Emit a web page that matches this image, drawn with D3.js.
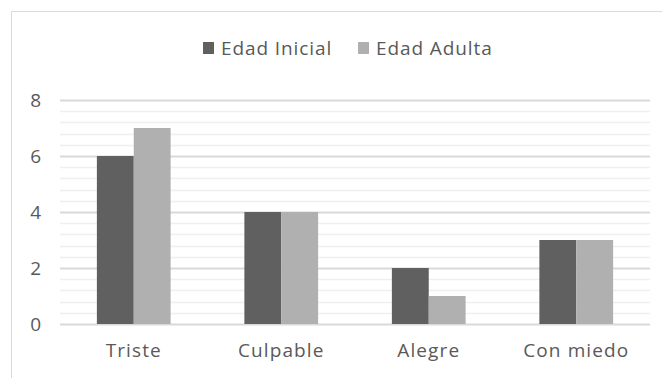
<!DOCTYPE html>
<html>
<head>
<meta charset="utf-8">
<script src="https://cdn.jsdelivr.net/npm/d3@7"></script>
<style>
  html, body { margin: 0; padding: 0; background: #fff; }
  svg { display: block; }
  text { font-family: "Open Sans", "Noto Sans", sans-serif; fill: #595959; }
</style>
</head>
<body>
<script>
// Emotion counts by age group
const categories = ["Triste", "Culpable", "Alegre", "Con miedo"];
const seriesNames = ["Edad Inicial", "Edad Adulta"];
const edadInicial = [6, 4, 2, 3];
const edadAdulta = [7, 4, 1, 3];
const yTicks = [0, 2, 4, 6, 8];

const W = 662, H = 378;
const colors = ["#606060", "#b0b0b0"];
const plot = { left: 60, right: 650, top: 100, bottom: 324 };
const fontSize = 19;

const svg = d3.select("body").append("svg").attr("width", W).attr("height", H);

// Chart frame
svg.append("rect")
  .attr("x", 11.5).attr("y", 11.5)
  .attr("width", 700).attr("height", 400)
  .attr("fill", "none").attr("stroke", "#d9d9d9");

const x0 = d3.scaleBand().domain(categories)
  .range([plot.left, plot.right]).paddingInner(0.5).paddingOuter(0.25);
const x1 = d3.scaleBand().domain(seriesNames).range([0, x0.bandwidth()]);
const y = d3.scaleLinear().domain([0, 8]).range([plot.bottom, plot.top]);

// Minor gridlines every 0.4
const minor = d3.range(0, 8.001, 0.4).filter(v => Math.abs(v / 2 - Math.round(v / 2)) > 1e-6);
svg.append("g").selectAll("line").data(minor).join("line")
  .attr("x1", plot.left).attr("x2", plot.right)
  .attr("y1", d => Math.round(y(d)) + 0.5).attr("y2", d => Math.round(y(d)) + 0.5)
  .attr("stroke", "#efefef").attr("stroke-width", 1.5);

// Major gridlines and labels via a left axis
const yAxis = d3.axisLeft(y).tickValues(yTicks).tickSize(-(plot.right - plot.left)).tickPadding(19);
const gy = svg.append("g").attr("transform", `translate(${plot.left},0)`).call(yAxis);
gy.select(".domain").remove();
gy.selectAll(".tick line").attr("stroke", "#d9d9d9").attr("stroke-width", 2);
gy.selectAll(".tick text")
  .style("font-family", '"Open Sans", sans-serif')
  .attr("fill", "#595959").attr("font-size", fontSize);

// Bars
const data = categories.map((c, i) => ({ cat: c, vals: [edadInicial[i], edadAdulta[i]] }));
const groups = svg.append("g").selectAll("g").data(data).join("g")
  .attr("transform", d => `translate(${x0(d.cat)},0)`);
groups.selectAll("rect").data(d => d.vals.map((v, k) => ({ name: seriesNames[k], v, k })))
  .join("rect")
  .attr("x", d => x1(d.name))
  .attr("width", x1.bandwidth())
  .attr("y", d => y(d.v))
  .attr("height", d => y(0) - y(d.v))
  .attr("fill", d => colors[d.k]);

// Category labels
const xAxis = d3.axisBottom(x0).tickSize(0).tickPadding(20);
const gx = svg.append("g").attr("transform", `translate(0,${plot.bottom})`).call(xAxis);
gx.select(".domain").remove();
gx.selectAll(".tick text")
  .style("font-family", '"Open Sans", sans-serif')
  .style("letter-spacing", "1.1px")
  .attr("fill", "#595959").attr("font-size", fontSize);

// Legend
const legendX = [203, 358];
const lg = svg.append("g").selectAll("g").data(seriesNames).join("g")
  .attr("transform", (d, i) => `translate(${legendX[i]},42)`);
lg.append("rect").attr("width", 11).attr("height", 12).attr("fill", (d, i) => colors[i]);
lg.append("text").attr("x", 18).attr("y", 12.5)
  .attr("font-size", fontSize).style("letter-spacing", "0.9px")
  .text(d => d);
</script>
</body>
</html>
